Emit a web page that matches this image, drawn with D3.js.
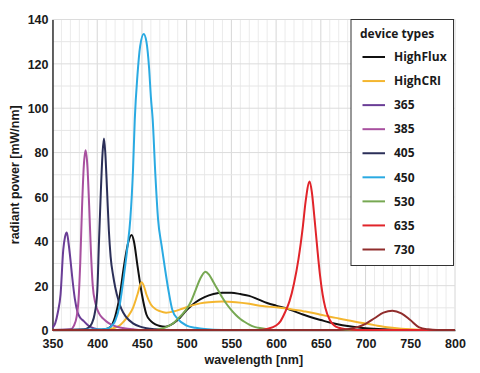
<!DOCTYPE html>
<html>
<head>
<meta charset="utf-8">
<script src="https://cdn.jsdelivr.net/npm/d3@7"></script>
<style>
  body { margin: 0; background: #fff; }
  svg { display: block; font-family: 'Open Sans', sans-serif; }
  .tick text { font-size: 12.5px; font-weight: 700; fill: #1a1a1a; }
  .svg-label { font-size: 12.5px; font-weight: 700; fill: #1a1a1a; }
  .leg .svg-label { font-size: 12px; }
</style>
</head>
<body>
<svg id="chart"></svg>
<script>
// series names + colours (legend order = draw order)
const seriesNames = ['HighFlux', 'HighCRI', '365', '385', '405', '450', '530', '635', '730'];
const seriesColors = ['#111111', '#f4b62f', '#6a3d96', '#a8509f', '#2b2f58', '#2aaae2', '#77a852', '#e1242a', '#902d2c'];

const xTicks = [350, 400, 450, 500, 550, 600, 650, 700, 750, 800];
const yTicks = [0, 20, 40, 60, 80, 100, 120, 140];

// [wavelength nm, radiant power mW/nm]
const highFlux = [
  [350, 0], [400, 0], [410, 0.5], [415, 1.5], [420, 6], [425, 15], [430, 29], [435, 40], [438.5, 42.8],
  [441, 40], [445, 29], [450, 16], [455, 7], [460, 4], [465, 2.5], [470, 1.8], [476, 1.5], [485, 3],
  [490, 4.5], [500, 9], [510, 12.5], [520, 14.8], [530, 16.2], [540, 16.8], [550, 16.8], [560, 16.2],
  [570, 15.4], [580, 13.8], [590, 12.2], [600, 11], [610, 9.9], [620, 8.5], [630, 7], [640, 5.6],
  [650, 4.5], [660, 3.4], [670, 2.5], [680, 1.8], [690, 1.2], [700, 0.8], [720, 0.3], [750, 0], [800, 0]
];
const highCRI = [
  [350, 0], [410, 0], [418, 0.8], [425, 2], [430, 4], [435, 6.5], [440, 10], [445, 16], [449.5, 21.5],
  [452, 20], [455, 16], [460, 11.5], [465, 9.5], [470, 8.5], [477, 7.8], [485, 8.3], [495, 9.6],
  [505, 11], [515, 12], [525, 12.5], [540, 12.8], [555, 12.5], [570, 11.8], [585, 10.8], [600, 10.2],
  [615, 9.5], [630, 8.5], [640, 7.8], [650, 6.9], [660, 6], [670, 5.2], [680, 4.4], [690, 3.6],
  [700, 2.9], [710, 2.2], [720, 1.5], [730, 1], [740, 0.6], [750, 0.3], [760, 0.1], [770, 0], [800, 0]
];
const uv365 = [
  [350, 1], [353, 3], [356, 8], [359, 16], [362, 36], [364, 42], [366, 44], [368, 39], [370, 32],
  [372, 24], [375, 14], [378, 8], [381, 5.5], [385, 4], [390, 2], [395, 0.9], [400, 0.4], [410, 0], [800, 0]
];
const uv385 = [
  [350, 0], [370, 0.3], [374, 2], [377, 6], [379, 13], [381, 30], [383, 55], [385, 74], [387, 81],
  [389, 74], [391, 56], [393, 35], [395, 20], [398, 12], [402, 7.5], [407, 5], [412, 3.3], [417, 2.2],
  [422, 1.5], [430, 0.8], [440, 0.3], [450, 0], [800, 0]
];
const uv405 = [
  [350, 0], [385, 0.3], [390, 1], [394, 3], [397, 7], [400, 17], [402, 40], [404, 62], [406, 80],
  [407.5, 86.4], [409, 80], [411, 63], [413, 45], [415, 33], [418, 24], [420, 19.5], [424, 13],
  [427, 9.5], [432, 6], [440, 3], [448, 1.5], [455, 0.8], [465, 0.3], [480, 0], [800, 0]
];
const blue450 = [
  [350, 0], [410, 0.5], [415, 1.5], [420, 4], [425, 11], [430, 25], [434, 38], [437, 50], [440, 72],
  [442, 95], [445, 115], [448, 128], [452, 133.5], [455, 130], [458, 118], [460, 105], [462, 95],
  [465, 70], [468, 50], [472, 38], [476, 27], [480, 17], [484, 9], [490, 5], [500, 2], [510, 1],
  [520, 0.4], [540, 0], [800, 0]
];
const green530 = [
  [350, 0], [465, 0], [475, 1], [485, 3], [490, 5], [495, 7], [500, 9.5], [505, 13], [510, 18],
  [515, 23], [521, 26.3], [525, 25], [530, 21.5], [535, 18], [540, 14.5], [545, 11.5], [550, 9],
  [555, 6.8], [560, 5], [565, 3.6], [570, 2.4], [575, 1.5], [580, 1], [590, 0.4], [600, 0], [800, 0]
];
const red635 = [
  [350, 0], [580, 0], [590, 0.5], [600, 2], [605, 4], [610, 8], [615, 13], [620, 21], [625, 32],
  [630, 47], [633, 58], [637.5, 67], [640, 62], [643, 50], [646, 37], [649, 25], [652, 16], [655, 10],
  [660, 4.5], [665, 2], [670, 1], [680, 0.3], [690, 0], [800, 0]
];
const red730 = [
  [350, 0], [670, 0], [680, 0.3], [690, 1.2], [700, 2.8], [710, 5.3], [720, 7.8], [730, 8.7],
  [740, 7.5], [750, 4.5], [760, 1.2], [770, 0.3], [780, 0], [800, 0]
];

const seriesValues = [highFlux, highCRI, uv365, uv385, uv405, blue450, green530, red635, red730];

const c = {
  width: 480,
  height: 373,
  margin: { top: 19.5, right: 25, bottom: 43, left: 52.5 },
};

const svg = d3.select('#chart').attr('width', c.width).attr('height', c.height);

const xScale = d3.scaleLinear([350, 800], [c.margin.left, c.width - c.margin.right]);
const yScale = d3.scaleLinear([0, 140], [c.height - c.margin.bottom, c.margin.top]);

// grid: every 10 nm / 10 mW, darker on the labelled ticks
const grid = svg.append('g').classed('grid', true);
grid
  .selectAll('line.v')
  .data(d3.range(350, 801, 10))
  .join('line')
  .attr('x1', (d) => xScale(d))
  .attr('x2', (d) => xScale(d))
  .attr('y1', yScale(0))
  .attr('y2', yScale(140))
  .attr('stroke', (d) => (d % 50 === 0 ? '#d6d6d6' : '#ebebeb'))
  .attr('stroke-width', 1);
grid
  .selectAll('line.h')
  .data(d3.range(10, 141, 10))
  .join('line')
  .attr('x1', xScale(350))
  .attr('x2', xScale(800))
  .attr('y1', (d) => yScale(d))
  .attr('y2', (d) => yScale(d))
  .attr('stroke', (d) => (d % 20 === 0 ? '#dcdcdc' : '#e6e6e6'))
  .attr('stroke-width', 1);

// axes
const xAxisEl = svg
  .append('g')
  .classed('axis x-axis', true)
  .attr('transform', `translate(0,${yScale(0)})`)
  .call(d3.axisBottom(xScale).tickValues(xTicks).tickSize(0).tickPadding(9));
const yAxisEl = svg
  .append('g')
  .classed('axis y-axis', true)
  .attr('transform', `translate(${c.margin.left},0)`)
  .call(d3.axisLeft(yScale).tickValues(yTicks).tickSize(0).tickPadding(4));

svg.selectAll('.domain').attr('stroke', '#333').attr('stroke-width', 1.5);
svg.selectAll('.tick text').attr('dy', '0.35em');
xAxisEl.selectAll('.tick text').attr('dy', '0.7em');

xAxisEl
  .append('text')
  .classed('svg-label', true)
  .attr('x', (xScale(350) + xScale(800)) / 2)
  .attr('y', 33.5)
  .attr('text-anchor', 'middle')
  .text('wavelength [nm]');

yAxisEl
  .append('text')
  .classed('svg-label', true)
  .attr('transform', `translate(${-37.5},${(yScale(0) + yScale(140)) / 2}) rotate(-90)`)
  .attr('text-anchor', 'middle')
  .attr('dy', '0.35em')
  .text('radiant power [mW/nm]');

// curves
const line = d3
  .line()
  .x((d) => xScale(d[0]))
  .y((d) => yScale(d[1]))
  .curve(d3.curveMonotoneX);

svg
  .append('g')
  .classed('plot', true)
  .selectAll('path')
  .data(seriesValues)
  .join('path')
  .attr('d', line)
  .attr('fill', 'none')
  .attr('stroke', (d, i) => seriesColors[i])
  .attr('stroke-width', 2)
  .attr('stroke-linejoin', 'round');

// legend
const leg = svg.append('g').classed('leg', true).attr('transform', 'translate(351,19.5)');
leg
  .append('rect')
  .attr('width', 102.5)
  .attr('height', 246)
  .attr('fill', '#fff')
  .attr('stroke', '#333')
  .attr('stroke-width', 1);
leg
  .append('text')
  .classed('svg-label', true)
  .attr('x', 9)
  .attr('y', 18)
  .text('device types');

const rowY = d3.scalePoint(seriesNames, [37.5, 230]);
const rows = leg
  .selectAll('g.label')
  .data(seriesNames)
  .join('g')
  .classed('label', true)
  .attr('transform', (d) => `translate(0,${rowY(d)})`);
rows
  .append('line')
  .attr('x1', 11.5)
  .attr('x2', 34)
  .attr('stroke', (d, i) => seriesColors[i])
  .attr('stroke-width', 2);
rows
  .append('text')
  .classed('svg-label', true)
  .attr('x', 43)
  .attr('dy', '0.35em')
  .text((d) => d);
</script>
</body>
</html>
